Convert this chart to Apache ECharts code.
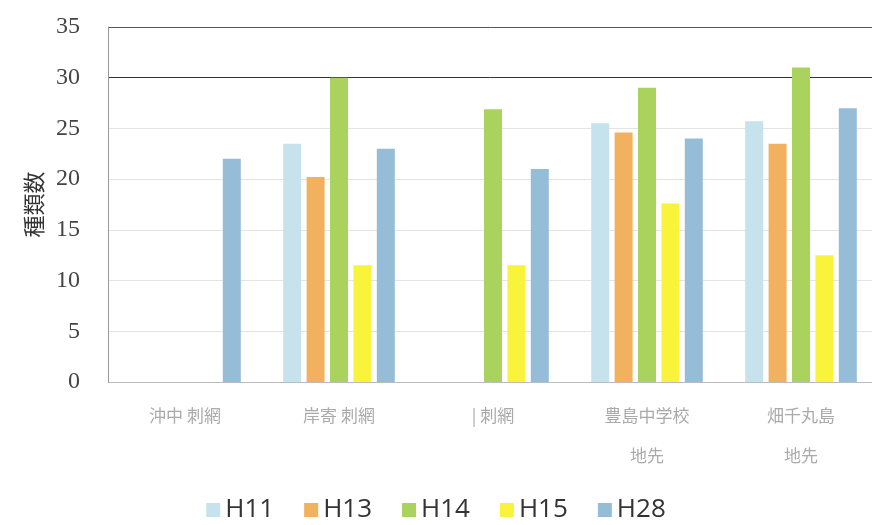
<!DOCTYPE html>
<html lang="ja">
<head>
    <meta charset="UTF-8">
    <title>種類数</title>
    <script src="https://cdn.jsdelivr.net/npm/echarts@6/dist/echarts.min.js"></script>
    <style>
        body { margin: 0; background: #fff; }
        #chart1 { width: 872px; height: 525px; }
    </style>
</head>
<body>
<div id="chart1"></div>
<script>
    var categories = ['沖中 刺網', '岸寄 刺網', '| 刺網', '豊島中学校\n地先', '畑千丸島\n地先'];
    var seriesNames = ['H11', 'H13', 'H14', 'H15', 'H28'];
    var h11 = [null, 23.5, null, 25.5, 25.7];
    var h13 = [null, 20.2, null, 24.6, 23.5];
    var h14 = [null, 30, 26.9, 29, 31];
    var h15 = [null, 11.5, 11.5, 17.6, 12.5];
    var h28 = [22, 23, 21, 24, 27];
    var colors = ['#c6e2ec', '#f1b15e', '#a9d35c', '#faf33c', '#96bdd8'];

    var chart = echarts.init(document.getElementById('chart1'), null, {renderer: 'canvas'});
    var all = [h11, h13, h14, h15, h28];
    var series = [];
    for (var i = 0; i < all.length; i++) {
        series.push({
            name: seriesNames[i],
            type: 'bar',
            data: all[i],
            barWidth: 18,
            barGap: '30%',
            itemStyle: {color: colors[i]}
        });
    }

    var option = {
        animation: false,
        color: colors,
        grid: {left: 108, width: 770, top: 27, height: 355, outerBoundsMode: 'none'},
        legend: {
            bottom: -3,
            left: 'center',
            itemWidth: 14,
            itemHeight: 14,
            itemGap: 30,
            icon: 'rect',
            textStyle: {fontSize: 26, color: '#333', fontFamily: 'Open Sans'},
            data: seriesNames
        },
        xAxis: {
            type: 'category',
            data: categories,
            axisLine: {show: false},
            axisTick: {show: false},
            axisLabel: {
                color: '#aaa',
                fontSize: 17,
                lineHeight: 40,
                margin: 14,
                fontFamily: 'Noto Sans CJK JP'
            }
        },
        yAxis: {
            type: 'value',
            min: 0,
            max: 35,
            interval: 5,
            name: '種類数',
            nameLocation: 'middle',
            nameGap: 58,
            nameTextStyle: {fontSize: 22, color: '#333', fontFamily: 'Noto Sans CJK JP'},
            axisLine: {show: true, lineStyle: {color: '#999'}},
            axisTick: {show: false},
            axisLabel: {
                color: '#444',
                fontSize: 24,
                margin: 28,
                fontFamily: 'Liberation Serif'
            },
            splitLine: {
                show: true,
                lineStyle: {color: ['#bbb', '#e4e4e4', '#e4e4e4', '#e4e4e4', '#e4e4e4', '#e4e4e4', '#333', '#555']}
            }
        },
        series: series
    };
    chart.setOption(option);
</script>
</body>
</html>
